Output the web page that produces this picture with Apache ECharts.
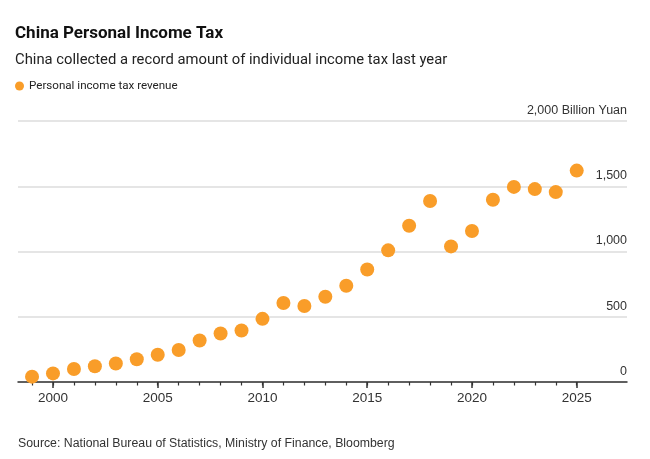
<!DOCTYPE html>
<html>
<head>
<meta charset="utf-8">
<script src="https://cdn.jsdelivr.net/npm/echarts@6/dist/echarts.min.js"></script>
<style>
html,body{margin:0;padding:0;background:#fff;}
#c{width:650px;height:459px;}
</style>
</head>
<body>
<div id="c"></div>
<script>
const years = [1999,2000,2001,2002,2003,2004,2005,2006,2007,2008,2009,2010,2011,2012,2013,2014,2015,2016,2017,2018,2019,2020,2021,2022,2023,2024,2025];
const revenue = [41,66,100,121,142,174,209,245,318,372,395,484,605,582,653,738,862,1009,1197,1387,1039,1157,1396,1495,1478,1455,1620];
const majorYears = [2000,2005,2010,2015,2020,2025];
const minorYears = years.slice();

const FONT = '"Liberation Sans", Arial, sans-serif';
const HFONT = 'Roboto, "Liberation Sans", Arial, sans-serif';
const ORANGE = '#f99d29';

const chart = echarts.init(document.getElementById('c'), null, {renderer:'canvas'});
chart.setOption({
  backgroundColor:'#fff',
  animation:false,
  textStyle:{fontFamily:FONT},
  title:[
    {text:'China Personal Income Tax', left:15, top:25, padding:0,
     textStyle:{fontFamily:HFONT, fontSize:17, fontWeight:'bold', color:'#111'}},
    {text:'China collected a record amount of individual income tax last year', left:15, top:53, padding:0,
     textStyle:{fontFamily:HFONT, fontSize:14.8, fontWeight:'normal', color:'#222'}},
    {text:'Source: National Bureau of Statistics, Ministry of Finance, Bloomberg', left:18, top:438, padding:0,
     textStyle:{fontFamily:FONT, fontSize:12.3, fontWeight:'normal', color:'#333'}}
  ],
  legend:{
    left:15, top:80, padding:0, itemWidth:9, itemHeight:9, itemGap:10,
    icon:'circle',
    textStyle:{fontFamily:HFONT, fontSize:11.6, color:'#222'},
    data:['Personal income tax revenue']
  },
  grid:{left:18, right:23, top:121, bottom:77, containLabel:false},
  xAxis:[
    {type:'value', min:1998.33, max:2027.4,
     axisLine:{show:true, lineStyle:{color:'#333', width:1.5}},
     axisTick:{show:true, customValues:majorYears, length:6, lineStyle:{color:'#333', width:1.5}},
     axisLabel:{show:true, customValues:majorYears, fontSize:13.5, color:'#333', margin:9, fontFamily:FONT,
       formatter:v=>String(v)},
     splitLine:{show:false}},
    {type:'value', min:1998.33, max:2027.4, position:'bottom',
     axisLine:{show:false},
     axisTick:{show:true, customValues:minorYears, length:3.5, lineStyle:{color:'#333', width:1.2}},
     axisLabel:{show:false},
     splitLine:{show:false}}
  ],
  yAxis:{
    type:'value', position:'right', min:0, max:2000, interval:500,
    axisLine:{show:false}, axisTick:{show:false},
    splitLine:{show:true, lineStyle:{color:'#dcdcdc', width:1.5}},
    axisLabel:{inside:true, margin:0, verticalAlign:'bottom', padding:[0,0,4,0],
      fontSize:12.5, color:'#333', fontFamily:FONT,
      formatter:v=> v===2000 ? '2,000 Billion Yuan' : v.toLocaleString('en-US')}
  },
  series:[{
    name:'Personal income tax revenue',
    type:'scatter',
    xAxisIndex:0,
    symbol:'circle',
    symbolSize:14,
    itemStyle:{color:ORANGE, opacity:1},
    data:years.map((y,i)=>[y, revenue[i]]),
    z:5
  }]
});
</script>
</body>
</html>
